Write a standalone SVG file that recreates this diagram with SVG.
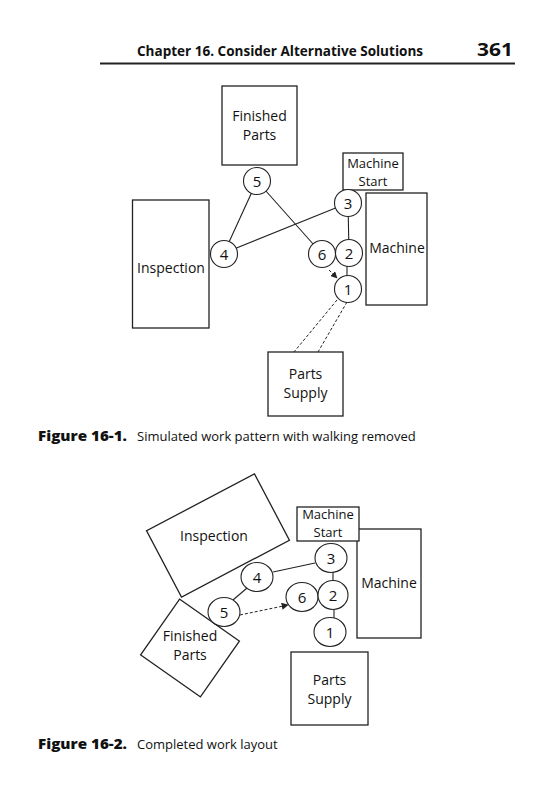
<svg xmlns="http://www.w3.org/2000/svg" width="558" height="800" viewBox="0 0 558 800">
<defs>
<style>
.box{fill:#fff;stroke:#222;stroke-width:1.3}
.c{fill:#fff;stroke:#222;stroke-width:1.1}
.ln{stroke:#222;stroke-width:1.1;fill:none}
.dl{stroke:#222;stroke-width:1;fill:none;stroke-dasharray:3 2}
.t{font-family:"Open Sans","DejaVu Sans",sans-serif;font-size:14px;fill:#111;text-anchor:middle}
.ts{font-family:"Open Sans","DejaVu Sans",sans-serif;font-size:13px;fill:#111;text-anchor:middle}
.n{font-family:"Open Sans","DejaVu Sans",sans-serif;font-size:15px;fill:#111;text-anchor:middle}
.hd{font-family:"Open Sans","DejaVu Sans",sans-serif;font-size:14.5px;font-weight:bold;fill:#111}
.cb{font-family:"Open Sans","DejaVu Sans",sans-serif;font-size:13.5px;font-weight:800;fill:#111}
.cp{font-family:"Open Sans","DejaVu Sans",sans-serif;font-size:13px;fill:#111}
</style>
<marker id="ah" viewBox="0 0 10 10" refX="9" refY="5" markerWidth="7" markerHeight="7" orient="auto" markerUnits="userSpaceOnUse">
<path d="M0,0 L10,5 L0,10 z" fill="#222"/>
</marker>
</defs>
<rect width="558" height="800" fill="#fff"/>
<g id="header">
<text class="hd" x="137" y="56" textLength="286" lengthAdjust="spacingAndGlyphs">Chapter 16. Consider Alternative Solutions</text>
<text class="hd" x="477" y="56" style="font-size:17px" textLength="36" lengthAdjust="spacingAndGlyphs">361</text>
<line x1="100" y1="63.5" x2="515" y2="63.5" stroke="#222" stroke-width="2"/>
</g>
<!-- Figure 16-1 -->
<g id="connectors1">
<line class="ln" x1="257" y1="181" x2="224" y2="253"/>
<line class="ln" x1="257" y1="181" x2="322" y2="254"/>
<line class="ln" x1="224" y1="253" x2="348" y2="203"/>
<line class="ln" x1="348" y1="203" x2="349" y2="253"/>
<line class="ln" x1="347" y1="266" x2="347" y2="277"/>
<line class="dl" x1="329" y1="270" x2="337" y2="278" marker-end="url(#ah)"/>
<line class="dl" x1="337" y1="300" x2="294" y2="352"/>
<line class="dl" x1="347" y1="302" x2="318" y2="352"/>
</g>
<g id="f1-finished"><rect class="box" x="222" y="86" width="75" height="79"/><text class="t" x="259.5" y="121">Finished</text><text class="t" x="259.5" y="140">Parts</text></g>
<g id="f1-inspection"><rect class="box" x="132.5" y="200" width="76.5" height="128"/><text class="t" x="171" y="273">Inspection</text></g>
<g id="f1-machine"><rect class="box" x="366" y="193" width="61" height="112"/><text class="t" x="397" y="253">Machine</text></g>
<g id="f1-mstart"><rect class="box" x="343" y="153" width="60" height="37"/><text class="ts" x="373" y="168">Machine</text><text class="ts" x="373" y="186">Start</text></g>
<g id="f1-supply"><rect class="box" x="268" y="352" width="75" height="64"/><text class="t" x="305.5" y="379">Parts</text><text class="t" x="305.5" y="398">Supply</text></g>
<g id="f1-n5"><circle class="c" cx="257" cy="181" r="13.5"/><text class="n" x="257" y="186.5">5</text></g>
<g id="f1-n3"><circle class="c" cx="348" cy="203" r="13.5"/><text class="n" x="348" y="208.5">3</text></g>
<g id="f1-n4"><circle class="c" cx="224" cy="254" r="13.5"/><text class="n" x="224" y="259.5">4</text></g>
<g id="f1-n6"><circle class="c" cx="322" cy="254" r="13.5"/><text class="n" x="322" y="259.5">6</text></g>
<g id="f1-n2"><circle class="c" cx="349" cy="253" r="13.5"/><text class="n" x="349" y="258.5">2</text></g>
<g id="f1-n1"><circle class="c" cx="348" cy="289" r="13.5"/><text class="n" x="348" y="294.5">1</text></g>
<g id="caption1"><text class="cb" x="38" y="441" textLength="89" lengthAdjust="spacingAndGlyphs">Figure 16-1.</text><text class="cp" x="137" y="441">Simulated work pattern with walking removed</text></g>
<!-- Figure 16-2 -->
<g id="connectors2">
<line class="ln" x1="273" y1="572" x2="315" y2="563"/>
<line class="ln" x1="333" y1="572" x2="333" y2="582"/>
<line class="ln" x1="233" y1="600" x2="247" y2="588"/>
<line class="ln" x1="334" y1="610" x2="334" y2="618"/>
<line class="dl" x1="240" y1="615" x2="288" y2="605" marker-end="url(#ah)"/>
</g>
<g id="f2-inspection"><rect class="box" x="157" y="498" width="122" height="75" transform="rotate(-27.8 218 535.5)"/><text class="t" x="214" y="541">Inspection</text></g>
<g id="f2-finished"><rect class="box" x="153.5" y="614" width="73" height="68" transform="rotate(35 190 648)"/><text class="t" x="190" y="641">Finished</text><text class="t" x="190" y="660">Parts</text></g>
<g id="f2-machine"><rect class="box" x="357" y="529" width="64" height="109"/><text class="t" x="389" y="588">Machine</text></g>
<g id="f2-mstart"><rect class="box" x="297" y="507" width="62" height="34"/><text class="ts" x="328" y="519">Machine</text><text class="ts" x="328" y="537">Start</text></g>
<g id="f2-supply"><rect class="box" x="291" y="652" width="77" height="73"/><text class="t" x="329.5" y="685">Parts</text><text class="t" x="329.5" y="704">Supply</text></g>
<g id="f2-n3"><ellipse class="c" cx="331" cy="558" rx="16" ry="14.5"/><text class="n" x="331" y="563.5">3</text></g>
<g id="f2-n4"><ellipse class="c" cx="257" cy="577" rx="16" ry="14.5"/><text class="n" x="257" y="582.5">4</text></g>
<g id="f2-n6"><ellipse class="c" cx="302" cy="597" rx="16" ry="14.5"/><text class="n" x="302" y="602.5">6</text></g>
<g id="f2-n2"><ellipse class="c" cx="333" cy="595" rx="15" ry="14.5"/><text class="n" x="333" y="600.5">2</text></g>
<g id="f2-n5"><ellipse class="c" cx="224" cy="612" rx="16" ry="14.5"/><text class="n" x="224" y="617.5">5</text></g>
<g id="f2-n1"><ellipse class="c" cx="330" cy="632" rx="16" ry="14.5"/><text class="n" x="330" y="637.5">1</text></g>
<g id="caption2"><text class="cb" x="38" y="749" textLength="89" lengthAdjust="spacingAndGlyphs">Figure 16-2.</text><text class="cp" x="137" y="749">Completed work layout</text></g>
</svg>
